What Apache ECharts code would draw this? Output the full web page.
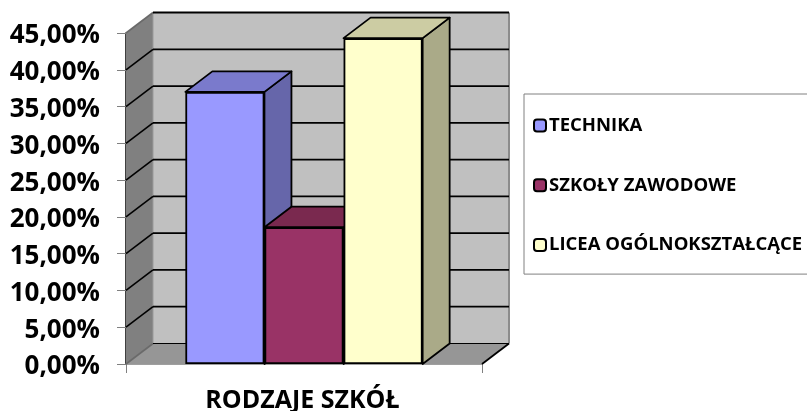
<!DOCTYPE html>
<html><head><meta charset="utf-8">
<style>html,body{margin:0;padding:0;background:#fff;overflow:hidden}#c{width:807px;height:411px}</style>
<script src="https://cdn.jsdelivr.net/npm/echarts@6/dist/echarts.min.js"></script>
</head><body><div id="c"></div>
<script>
var categories = ['RODZAJE SZKÓŁ'];
var technika = [0.37];
var zawodowe = [0.186];
var licea = [0.443];
var tickValues = [0,0.05,0.1,0.15,0.2,0.25,0.3,0.35,0.4,0.45];
var seriesNames = ['TECHNIKA','SZKOŁY ZAWODOWE','LICEA OGÓLNOKSZTAŁCĄCE'];

var FONT = '"Open Sans", sans-serif';
var DX = 27, DY = -20.5, BAR = 79.1;
var chart = echarts.init(document.getElementById('c'), null, {renderer:'canvas'});

function wall(params, api){
  var t = api.value(1);
  var f = api.coord([0,t]);
  var half = api.size([1,0])[0]/2;
  var L = f[0]-half, R = f[0]+half, y = f[1];
  var kids = [];
  if (params.dataIndex === 0){
    var top = api.coord([0,tickValues[tickValues.length-1]])[1];
    kids.push({type:'polygon',shape:{points:[[L,top],[L+DX,top+DY],[L+DX,y+DY],[L,y]]},style:{fill:'#808080',stroke:null}});
    kids.push({type:'rect',shape:{x:L+DX,y:top+DY,width:R-L,height:y-top},style:{fill:'#c0c0c0',stroke:null}});
    kids.push({type:'polygon',shape:{points:[[L,y],[L+DX,y+DY],[R+DX,y+DY],[R,y]]},style:{fill:'#969696',stroke:null}});
    kids.push({type:'line',shape:{x1:R+DX,y1:top+DY,x2:R+DX,y2:y+DY},style:{stroke:'#8c8c8c',lineWidth:2}});
    kids.push({type:'line',shape:{x1:R,y1:y,x2:R+DX,y2:y+DY},style:{stroke:'#000',lineWidth:1.8}});
    kids.push({type:'line',shape:{x1:L+DX,y1:top+DY,x2:L+DX,y2:y+DY},style:{stroke:'#9a9a9a',lineWidth:1}});
  }
  var last = params.dataIndex === tickValues.length-1;
  kids.push({type:'line',shape:{x1:L,y1:y,x2:L+DX,y2:y+DY},style:{stroke:(last||params.dataIndex===0)?'#6a6a6a':'#000',lineWidth:1.6}});
  kids.push({type:'line',shape:{x1:L+DX,y1:y+DY,x2:R+DX,y2:y+DY},style:{stroke:'#000',lineWidth:params.dataIndex===0?1.2:1.8}});
  return {type:'group',children:kids};
}

function box(index, topColor, sideColor){
  return function(params, api){
    var v = api.value(1);
    var c0 = api.coord([0,0]);
    var c1 = api.coord([0,v]);
    var left = c0[0]-BAR*1.5+index*BAR, right = left+BAR;
    var yt = c1[1], yb = c0[1];
    var st = {stroke:'#000',lineWidth:1.8,lineJoin:'round'};
    return {type:'group',children:[
      {type:'polygon',shape:{points:[[right,yt],[right+DX,yt+DY],[right+DX,yb+DY],[right,yb]]},style:Object.assign({fill:sideColor},st)},
      {type:'polygon',shape:{points:[[left,yt],[left+DX,yt+DY],[right+DX,yt+DY],[right,yt]]},style:Object.assign({fill:topColor},st)}
    ]};
  };
}
function pair(name, vals, idx, front, topC, sideC){
  var zb = 3+idx*2;
  return [
    {type:'custom',name:name+' 3D',z:zb,silent:true,renderItem:box(idx,topC,sideC),
      data:vals.map(function(v,i){return [i,v];}),encode:{x:0,y:1}},
    {type:'bar',name:name,z:zb+1,data:vals,barWidth:BAR,barGap:0,
      itemStyle:{color:front,borderColor:'#000',borderWidth:1.8}}
  ];
}
var series = [{type:'custom',name:'walls',z:1,silent:true,renderItem:wall,
  data:tickValues.map(function(t){return [0,t];}),encode:{x:0,y:1}}]
  .concat(pair(seriesNames[0],technika,0,'#9999ff','#7a7acc','#6666aa'))
  .concat(pair(seriesNames[1],zawodowe,1,'#993366','#7a294f','#662244'))
  .concat(pair(seriesNames[2],licea,2,'#ffffcc','#cccca3','#aaaa88'));

chart.setOption({
  animation:false,
  backgroundColor:'#fff',
  grid:{left:126,right:325,top:33,bottom:47,containLabel:false,outerBoundsMode:'none'},
  legend:{
    data:seriesNames,orient:'vertical',left:524,top:94,
    padding:[22,24,19.5,9],borderColor:'#808080',borderWidth:1,
    itemWidth:12,itemHeight:12,itemGap:40.8,
    selectedMode:false,
    textStyle:{fontFamily:FONT,fontWeight:'bold',fontSize:18.5,color:'#000',lineHeight:12,height:12,padding:[0,0,0,-2]}
  },
  xAxis:{type:'category',data:categories,
    axisLine:{show:true,lineStyle:{color:'#808080',width:1.5}},
    axisTick:{show:true,length:9,lineStyle:{color:'#808080',width:1}},
    axisLabel:{fontFamily:FONT,fontWeight:'bold',fontSize:25,color:'#000',margin:24,padding:[0,3,0,0]}},
  yAxis:{type:'value',min:0,max:0.45,interval:0.05,
    axisLine:{show:true,lineStyle:{color:'#000',width:1.5}},
    axisTick:{show:true,length:9,lineStyle:{color:'#808080',width:1}},
    splitLine:{show:false},
    axisLabel:{fontFamily:FONT,fontWeight:'bold',fontSize:26,color:'#000',margin:26,verticalAlign:'top',lineHeight:6,
      formatter:function(v){return (v*100).toFixed(2).replace('.',',')+'%';}}},
  series:series
});
</script></body></html>
